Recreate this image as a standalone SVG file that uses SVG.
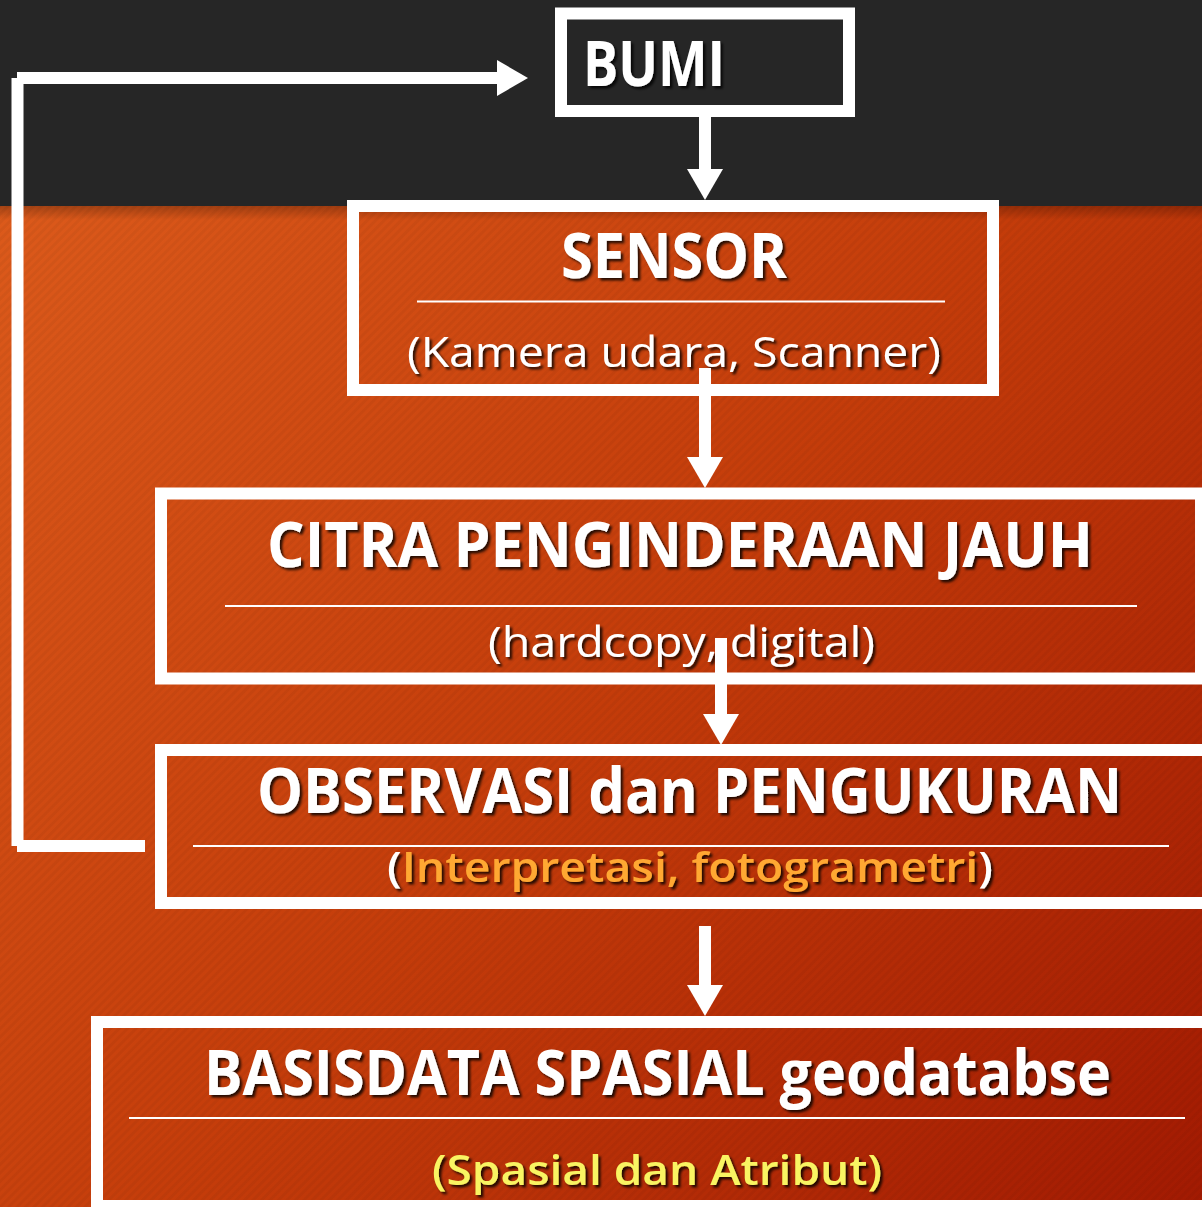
<svg xmlns="http://www.w3.org/2000/svg" width="1202" height="1207" viewBox="0 0 1202 1207">
  <defs>
    <linearGradient id="bg" x1="0" y1="206" x2="1202" y2="1207" gradientUnits="userSpaceOnUse">
      <stop offset="0" stop-color="#dc5a1b"/>
      <stop offset="0.5" stop-color="#c43c0a"/>
      <stop offset="1" stop-color="#a21a02"/>
    </linearGradient>
    <linearGradient id="topshade" x1="0" y1="0" x2="0" y2="1">
      <stop offset="0" stop-color="#000" stop-opacity="0.25"/>
      <stop offset="1" stop-color="#000" stop-opacity="0"/>
    </linearGradient>
    <pattern id="stripes" width="6" height="6" patternUnits="userSpaceOnUse" patternTransform="rotate(-45)">
      <rect width="6" height="3" fill="#000" fill-opacity="0.04"/>
    </pattern>
    <filter id="shadow" x="-5%" y="-20%" width="110%" height="150%">
      <feDropShadow dx="2.5" dy="2.5" stdDeviation="1.2" flood-color="#000" flood-opacity="0.8"/>
    </filter>
    <marker id="head" viewBox="0 0 31 36" markerWidth="31" markerHeight="36" markerUnits="userSpaceOnUse" refX="0" refY="18" orient="auto">
      <path d="M0,0 L31,18 L0,36 z" fill="#fff"/>
    </marker>
  </defs>
  <style>
    .box { fill: none; stroke: #fff; stroke-width: 12; }
    .div { stroke: #fff; stroke-width: 2; }
    .conn { fill: none; stroke: #fff; stroke-width: 12; stroke-linecap: butt; }
    .title { font-family: "Open Sans", "DejaVu Sans", sans-serif; font-weight: 700; font-size: 62px; fill: #fff; filter: url(#shadow); }
    .sub { font-family: "Open Sans", "DejaVu Sans", sans-serif; font-weight: 400; font-size: 42px; fill: #fff; filter: url(#shadow); }
    .subb { font-weight: 600; }
  </style>

  <!-- background -->
  <rect x="0" y="0" width="1202" height="206" fill="#262626"/>
  <rect x="0" y="206" width="1202" height="1001" fill="url(#bg)"/>
  <rect x="0" y="206" width="1202" height="1001" fill="url(#stripes)"/>
  <rect x="0" y="206" width="1202" height="14" fill="url(#topshade)"/>

  <g id="bumi">
    <rect class="box" x="561" y="13.5" width="288" height="97.5" style="fill:#262626"/>
    <text class="title" x="583" y="86" textLength="142" lengthAdjust="spacingAndGlyphs">BUMI</text>
  </g>

  <g id="sensor">
    <rect class="box" x="353" y="206" width="640" height="184"/>
    <text class="title" x="561" y="278" textLength="226" lengthAdjust="spacingAndGlyphs">SENSOR</text>
    <line class="div" x1="417" y1="301.5" x2="945" y2="301.5"/>
    <text class="sub" x="407" y="367" font-size="40" textLength="534" lengthAdjust="spacingAndGlyphs">(Kamera udara, Scanner)</text>
  </g>

  <g id="citra">
    <rect class="box" x="161" y="493.5" width="1040" height="185"/>
    <text class="title" x="267" y="567" textLength="826" lengthAdjust="spacingAndGlyphs">CITRA PENGINDERAAN JAUH</text>
    <line class="div" x1="225" y1="606" x2="1137" y2="606"/>
    <text class="sub" x="488" y="657" font-size="44" textLength="387" lengthAdjust="spacingAndGlyphs">(hardcopy, digital)</text>
  </g>

  <g id="observasi">
    <rect class="box" x="161" y="750" width="1060" height="153"/>
    <text class="title" x="257" y="813" textLength="865" lengthAdjust="spacingAndGlyphs">OBSERVASI dan PENGUKURAN</text>
    <line class="div" x1="193" y1="846" x2="1169" y2="846"/>
    <text class="sub subb" x="387" y="882" font-size="43" textLength="606" lengthAdjust="spacingAndGlyphs">(<tspan fill="#ffa833">Interpretasi, fotogrametri</tspan>)</text>
  </g>

  <g id="basisdata">
    <rect class="box" x="97" y="1022" width="1120" height="184"/>
    <text class="title" x="204" y="1095" textLength="907" lengthAdjust="spacingAndGlyphs">BASISDATA SPASIAL geodatabse</text>
    <line class="div" x1="129" y1="1118" x2="1185" y2="1118"/>
    <text class="sub subb" x="432" y="1185" font-size="44" style="fill:#f9f462" textLength="450" lengthAdjust="spacingAndGlyphs">(Spasial dan Atribut)</text>
  </g>

  <g id="connectors">
    <line class="conn" x1="705" y1="117" x2="705" y2="169" marker-end="url(#head)"/>
    <line class="conn" x1="705" y1="368" x2="705" y2="457" marker-end="url(#head)"/>
    <line class="conn" x1="721" y1="638" x2="721" y2="714" marker-end="url(#head)"/>
    <line class="conn" x1="705" y1="926" x2="705" y2="985" marker-end="url(#head)"/>
    <path class="conn" d="M145,846 H17 M17.5,846 V78 M17,78 H497" marker-end="url(#head)"/>
  </g>
</svg>
